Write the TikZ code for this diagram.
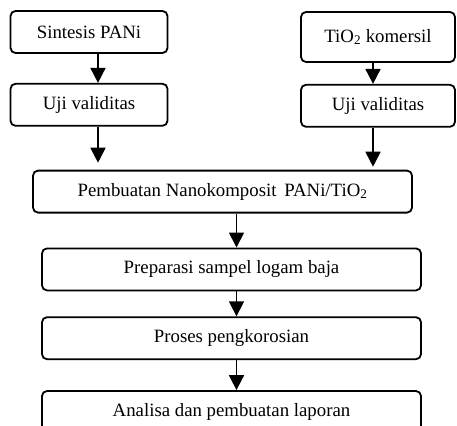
\documentclass[tikz,border=0pt]{standalone}
\usepackage{fontspec}
\setmainfont{Liberation Serif}
\usetikzlibrary{arrows.meta,positioning}

\begin{document}
\begin{tikzpicture}[>={Triangle[width=15pt,length=15pt]},node distance=29pt,
  langkah/.style={draw,line width=1.8pt,rounded corners=5pt,align=center,
    inner sep=0pt,font=\fontsize{18.8}{22}\selectfont},
  kecil/.style={langkah,minimum width=157pt,minimum height=42pt},
  lebar/.style={langkah,minimum width=379pt,minimum height=42pt},
  panah/.style={->,line width=1.8pt}]

\useasboundingbox (0,0) rectangle (457pt,-425pt);

\node[kecil]   (sintesis)  at (89pt,-32pt)     {Sintesis PANi};
 \node[kecil]  (uji1)  [below=of sintesis]  {Uji validitas};
	\node[kecil,minimum width=154pt,minimum height=50pt] (tio2) at (378pt,-37pt) {TiO\textsubscript{2} komersil};
	\node[kecil,minimum width=154pt]   (uji2) [below=21pt of tio2]   {Uji validitas};

\node[lebar]   (nano) [below=43pt of uji1,xshift=133.5pt]  {Pembuatan Nanokomposit\, PANi/TiO\textsubscript{2}};
\node[lebar]   (prep) [below=34pt of nano,xshift=9pt]     {Preparasi sampel logam baja};
\node[lebar]   (proses) [below=25pt of prep]             {Proses pengkorosian};
\node[lebar]   (analisa) [below=30pt of proses]          {Analisa dan pembuatan laporan};

	\draw[panah] ([xshift=9pt]sintesis.south) -- ([xshift=9pt]uji1.north);
	\draw[panah,shorten >=7pt] ([xshift=9pt]uji1.south) -- ([xshift=9pt]uji1.south |- nano.north);
	\draw[panah] ([xshift=-5pt]tio2.south) -- ([xshift=-5pt]uji2.north);
	\draw[panah,shorten >=3pt] ([xshift=-5pt]uji2.south) -- ([xshift=-5pt]uji2.south |- nano.north);
	\draw[panah] ([xshift=5pt]prep.north |- nano.south) -- ([xshift=5pt]prep.north);
	\draw[panah] ([xshift=5pt]prep.south) -- ([xshift=5pt]proses.north);
	\draw[panah] ([xshift=5pt]proses.south) -- ([xshift=5pt]analisa.north);

\end{tikzpicture}
\end{document}
